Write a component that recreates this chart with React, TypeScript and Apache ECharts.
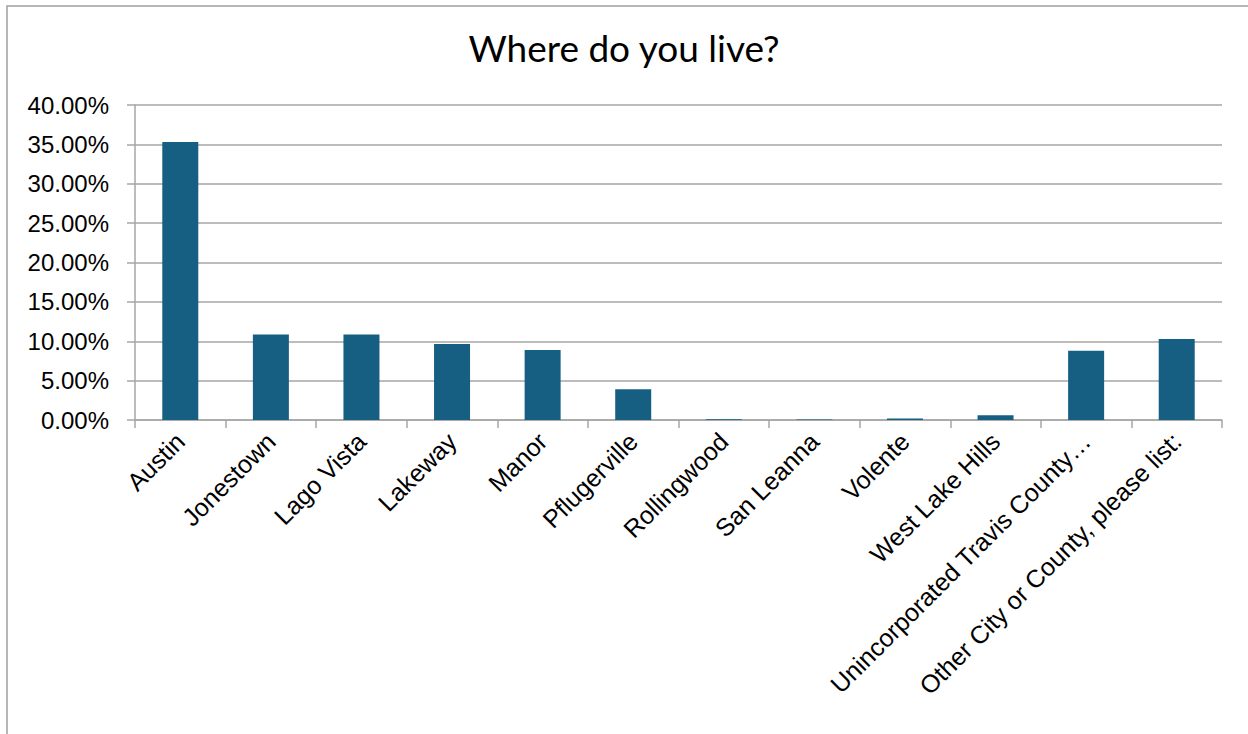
import React, { useEffect, useRef } from "react";
import * as echarts from "echarts";

const categories = [
  "Austin",
  "Jonestown",
  "Lago Vista",
  "Lakeway",
  "Manor",
  "Pflugerville",
  "Rollingwood",
  "San Leanna",
  "Volente",
  "West Lake Hills",
  "Unincorporated Travis County…",
  "Other City or County, please list:",
];
const values = [35.3, 10.85, 10.85, 9.65, 8.9, 3.9, 0.1, 0.05, 0.2, 0.6, 8.8, 10.3];
const yTicks = { min: 0, max: 40, interval: 5 };
const title = "Where do you live?";

export default function App() {
  const ref = useRef<HTMLDivElement>(null);
  useEffect(() => {
    if (!ref.current) return;
    const chart = echarts.init(ref.current, undefined, { renderer: "svg" });
    const gray = "#a6a6a6";
    chart.setOption({
      animation: false,
      backgroundColor: "#ffffff",
      title: {
        text: title,
        left: "center",
        top: 24,
        textStyle: { fontFamily: "Lato", fontSize: 37, fontWeight: "normal", color: "#000" },
      },
      graphic: [
        {
          type: "rect",
          shape: { x: 7, y: 6, width: 1400, height: 900 },
          style: { fill: "none", stroke: "#a0a0a0", lineWidth: 1.5 },
          silent: true,
        },
      ],
      grid: { left: 135, right: 26, top: 105, bottom: 314, containLabel: false },
      xAxis: {
        type: "category",
        data: categories,
        axisLine: { show: true, lineStyle: { color: gray, width: 1.5 } },
        axisTick: { show: true, length: 8, alignWithLabel: false, lineStyle: { color: gray, width: 1.5 } },
        axisLabel: {
          rotate: 45,
          interval: 0,
          margin: 17,
          fontFamily: "Liberation Sans, Arial",
          fontSize: 25,
          color: "#000",
        },
      },
      yAxis: {
        type: "value",
        min: yTicks.min,
        max: yTicks.max,
        interval: yTicks.interval,
        axisLine: { show: true, lineStyle: { color: gray, width: 1.5 } },
        axisTick: { show: true, length: 8, inside: false, lineStyle: { color: gray, width: 1.5 } },
        splitLine: { show: true, lineStyle: { color: gray, width: 1.5 } },
        axisLabel: {
          margin: 26,
          fontFamily: "Liberation Sans, Arial",
          fontSize: 24,
          color: "#000",
          formatter: (v: number) => v.toFixed(2) + "%",
        },
      },
      series: [
        {
          type: "bar",
          data: values,
          barWidth: 36,
          itemStyle: { color: "#165f82" },
        },
      ],
    });
    return () => chart.dispose();
  }, []);
  return (
    <div
      ref={ref}
      style={{ position: "fixed", left: 0, top: 0, width: 1248, height: 734 }}
    />
  );
}
